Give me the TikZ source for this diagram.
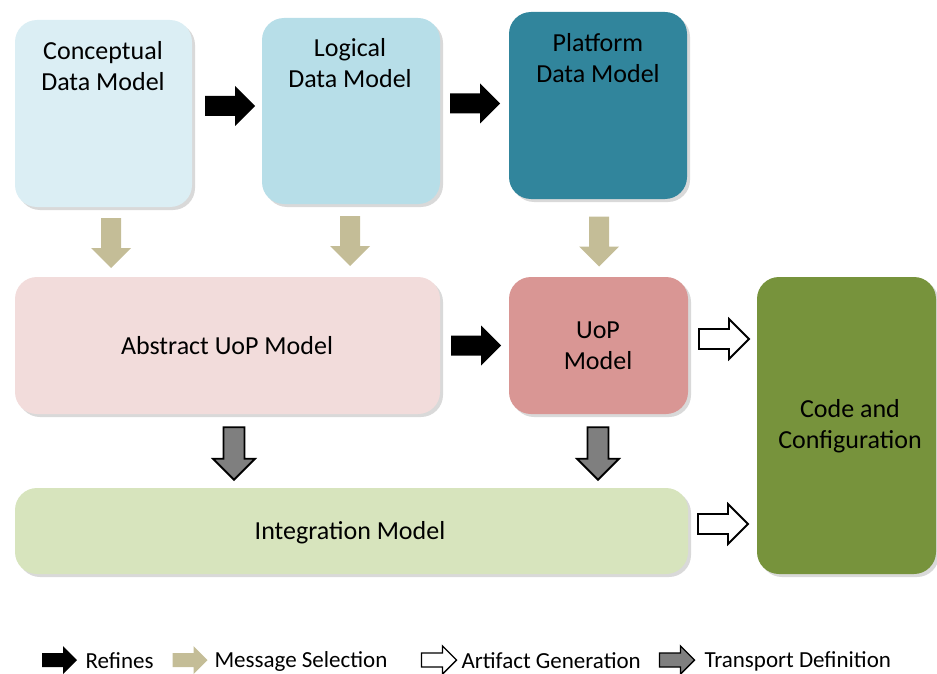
\documentclass[tikz,border=0pt]{standalone}
\usepackage{fontspec}
\setmainfont{Carlito}
\usetikzlibrary{shadows,calc}
\definecolor{cdmc}{HTML}{DBEEF4}
\definecolor{ldmc}{HTML}{B7DEE8}
\definecolor{pdmc}{HTML}{31859C}
\definecolor{aumc}{HTML}{F2DCDB}
\definecolor{uopc}{HTML}{D99694}
\definecolor{intc}{HTML}{D7E4BD}
\definecolor{codec}{HTML}{77933C}
\definecolor{tanc}{HTML}{C4BD97}
\definecolor{grayc}{HTML}{7F7F7F}
\tikzset{
  box/.style={rectangle, rounded corners=22pt, inner sep=0pt,
    drop shadow={opacity=0.3, shadow xshift=3pt, shadow yshift=-3pt}},
  boxtext/.style={align=center, font=\fontsize{26}{31}\selectfont, text=black},
  legtext/.style={anchor=west, font=\fontsize{23}{26}\selectfont, text=black},
  barrow/.pic={\path[pic actions] (-25,-10) -- (5,-10) -- (5,-20) -- (25,0) -- (5,20) -- (5,10) -- (-25,10) -- cycle;},
  ashadow/.style={drop shadow={opacity=0.35, shadow xshift=3pt, shadow yshift=-3pt}},
  refarrow/.style={fill=black, draw=none, ashadow},
  selarrow/.style={fill=tanc, draw=none, ashadow},
  genarrow/.style={fill=white, draw=black, line width=1.8pt, line join=miter, ashadow},
  traarrow/.style={fill=grayc, draw=black, line width=1.8pt, line join=miter, ashadow},
}
\begin{document}
\begin{tikzpicture}[x=1pt, y=-1pt]
\useasboundingbox (0,0) rectangle (937,674);
% boxes
\node[box, fill=cdmc, minimum width=177pt, minimum height=187pt] (cdm) at (103.5,113.5) {};
\node[box, fill=ldmc, minimum width=178pt, minimum height=186pt] (ldm) at (351,111) {};
\node[box, fill=pdmc, minimum width=178pt, minimum height=187pt] (pdm) at (598,105.5) {};
\node[box, fill=aumc, minimum width=425pt, minimum height=137pt] (aum) at (227.5,345.5) {};
\node[box, fill=uopc, minimum width=179pt, minimum height=137pt] (uop) at (598.5,345.5) {};
\node[box, fill=intc, minimum width=673pt, minimum height=86pt] (intm) at (351.5,531) {};
\node[box, fill=codec, minimum width=179pt, minimum height=297pt] (code) at (846.5,425.5) {};
% texts
\node[boxtext] (cdmt) at (103,66) {Conceptual\\Data Model};
\node[boxtext] (ldmt) at (350,63) {Logical\\Data Model};
\node[boxtext] (pdmt) at (598,58) {Platform\\Data Model};
\node[boxtext] (aumt) at (227,346) {Abstract UoP Model};
\node[boxtext] (uopt) at (598,346) {UoP\\Model};
\node[boxtext] (codet) at (850,426) {Code and\\Configuration};
\node[boxtext] (intmt) at (350,533) {Integration Model};
% refines arrows
\pic[refarrow] at (230,106) {barrow};
\pic[refarrow] at (475,103.5) {barrow};
\pic[refarrow] at (476,345.5) {barrow};
% message selection arrows
\pic[selarrow, rotate=-90] at (111,243) {barrow};
\pic[selarrow, rotate=-90] at (350,241) {barrow};
\pic[selarrow, rotate=-90] at (599,241.5) {barrow};
% transport definition arrows
\pic[traarrow, rotate=-90, scale=1.05] at (234,453.5) {barrow};
\pic[traarrow, rotate=-90, scale=1.05] at (598,453.5) {barrow};
% artifact generation arrows
\pic[genarrow] at (724,339) {barrow};
\pic[genarrow] at (723,524) {barrow};
% legend
\pic[refarrow, scale=0.7] at (59.5,660) {barrow};
\node[legtext] (l1) at (82,661) {Refines};
\pic[selarrow, scale=0.7] at (190,660) {barrow};
\node[legtext] (l2) at (211,661) {Message Selection};
\pic[genarrow, scale=0.7, line width=1.4pt] at (439,660) {barrow};
\node[legtext] (l3) at (458,661) {Artifact Generation};
\pic[traarrow, scale=0.7, line width=1.4pt] at (677,660) {barrow};
\node[legtext] (l4) at (701,661) {Transport Definition};
\end{tikzpicture}
\end{document}
